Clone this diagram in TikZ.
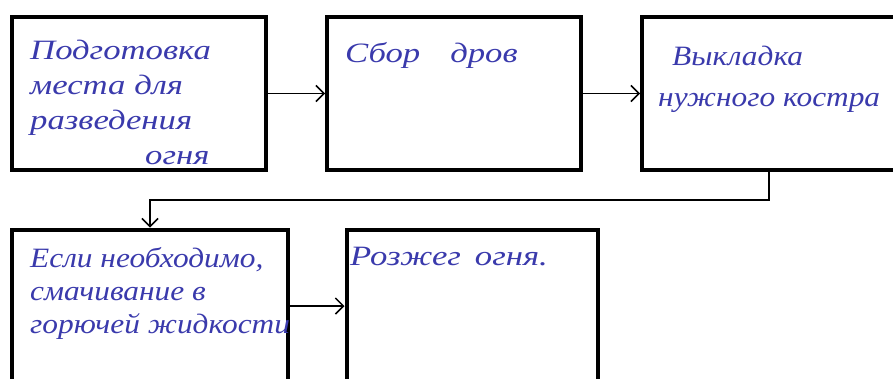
\documentclass[tikz,border=0pt]{standalone}
\usepackage{fontspec}
\setmainfont{Liberation Serif}
\newfontfamily\ruka{Liberation Serif}[FakeStretch=1.24]
\newfontfamily\rukauzh{Liberation Serif}[FakeStretch=1.12]
\usetikzlibrary{arrows.meta,positioning}
\definecolor{ink}{RGB}{58,58,172}

\begin{document}
\begin{tikzpicture}[x=1pt,y=-1pt,
        blok/.style={draw, line width=4pt, minimum width=254pt, minimum height=153pt, inner sep=0pt},
        zapis/.style={text=ink, font=\ruka\fontsize{28}{35}\selectfont\itshape, align=left, anchor=north west, inner sep=0pt},
        uzko/.style={zapis, font=\rukauzh\fontsize{28}{33}\selectfont\itshape},
        strelka/.style={draw, line width=1.5pt, -{Straight Barb[length=8pt,width=16pt,line width=1.5pt]}}
    ]
    \useasboundingbox (0,0) rectangle (893,378);
    \clip (0,0) rectangle (893,378);

    \node[blok] (podg) at (139,93.5) {};
    \node[blok] (sbor) at (454,93.5) {};
    \node[blok] (vykl) at (769,93.5) {};
    \node[blok, minimum width=276pt] (smach) at (150,306) {};
    \node[blok, minimum width=251pt] (rozzh) at (472,306) {};

    \node[zapis] (tpodg) at (30,40) {Подготовка\\места для\\разведения\\\hspace{115pt}огня};
    \node[zapis] (tsbor) at (345,42) {Сбор\hspace{30pt}дров};
    \node[uzko] (tvykl) at (672,46) {Выкладка\\[8pt]\hspace{-14pt}нужного костра};
    \node[uzko] (tsmach) at (30,247) {Если необходимо,\\смачивание в\\горючей жидкости};
    \node[zapis] (trozzh) at (350,247) {Розжег\hspace{14pt}огня.};

    \draw[strelka] (podg) -- (sbor);
    \draw[strelka] (sbor) -- (vykl);
    \draw[strelka] (vykl.south) -- ++(0,28) -| (smach.north);
    \draw[strelka] (smach) -- (rozzh);
\end{tikzpicture}
\end{document}
